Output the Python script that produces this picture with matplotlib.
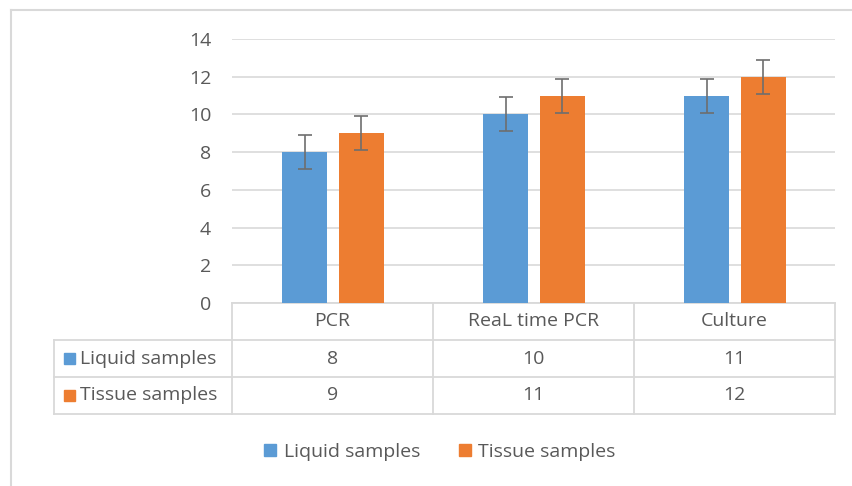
import numpy as np
import matplotlib.pyplot as plt
from matplotlib.lines import Line2D
from matplotlib.patches import Rectangle
from matplotlib.transforms import blended_transform_factory

plt.rcParams['font.family'] = ['Open Sans', 'DejaVu Sans']

categories = ['PCR', 'ReaL time PCR', 'Culture']
series_names = ['Liquid samples', 'Tissue samples']
liquid = [8, 10, 11]
tissue = [9, 11, 12]
err = [0.9, 0.9]
colors = ['#5B9BD5', '#ED7D31']
yticks = [0, 2, 4, 6, 8, 10, 12, 14]

W, H = 853, 486
txt = '#595959'
grid = '#D9D9D9'
fs = 14

fig = plt.figure(figsize=(W / 100, H / 100), dpi=100)
ax = fig.add_axes([232 / W, 1 - 303 / H, (835 - 232) / W, (303 - 39) / H])

x = np.arange(len(categories))
bw = 0.225
ekw = dict(ecolor='#6E6E6E', elinewidth=1.2, capsize=5, capthick=1.2)
ax.bar(x - 0.138, liquid, bw, color=colors[0], yerr=err[0], error_kw=ekw, zorder=3)
ax.bar(x + 0.143, tissue, bw, color=colors[1], yerr=err[1], error_kw=ekw, zorder=3)

ax.set_xlim(-0.5, 2.5)
ax.set_ylim(0, 14)
ax.set_yticks(yticks)
ax.set_xticks([])
ax.yaxis.grid(True, color=grid, linewidth=1.2)
ax.set_axisbelow(True)
for s in ax.spines.values():
    s.set_visible(False)
ax.tick_params(axis='y', length=0, pad=15, labelsize=fs, labelcolor=txt)

# data table below the axis
rh = 37 / (303 - 39)
xl = -0.5 - (232 - 54) / ((835 - 232) / 3)
bt = blended_transform_factory(ax.transData, ax.transAxes)
lk = dict(color=grid, linewidth=1.3, transform=bt, clip_on=False)
ax.add_line(Line2D([-0.5, 2.5], [0, 0], **lk))
for k in (1, 2, 3):
    ax.add_line(Line2D([xl, 2.5], [-k * rh, -k * rh], **lk))
for xv in (-0.5, 0.5, 1.5, 2.5):
    ax.add_line(Line2D([xv, xv], [0, -3 * rh], **lk))
ax.add_line(Line2D([xl, xl], [-rh, -3 * rh], **lk))

for i, c in enumerate(categories):
    ax.text(i, -0.5 * rh, c, transform=bt, ha='center', va='center',
            fontsize=fs, color=txt)
for r, (name, vals) in enumerate(zip(series_names, [liquid, tissue])):
    yc = -(1.5 + r) * rh
    for i, v in enumerate(vals):
        ax.text(i, yc, str(v), transform=bt, ha='center', va='center',
                fontsize=fs, color=txt)
    ax.text(xl + 0.13, yc, name, transform=bt, ha='left', va='center',
            fontsize=fs, color=txt)
    ax.add_patch(Rectangle((xl + 0.05, yc - 0.022), 0.055, 0.044, color=colors[r],
                           transform=bt, clip_on=False))

handles = [Rectangle((0, 0), 1, 1, color=c) for c in colors]
fig.legend(handles, series_names, loc='center', bbox_to_anchor=(440 / W, 1 - 452 / H),
           ncol=2, frameon=False, fontsize=fs, labelcolor=txt, handlelength=0.6,
           handleheight=0.6, handletextpad=0.4, columnspacing=2.0)

# outer chart border
fig.add_artist(Line2D([11 / W, 11 / W], [0, 1 - 10 / H], color=grid, linewidth=1.5))
fig.add_artist(Line2D([11 / W, 1], [1 - 10 / H, 1 - 10 / H], color=grid, linewidth=1.5))

fig.savefig('out.png', dpi=100)
